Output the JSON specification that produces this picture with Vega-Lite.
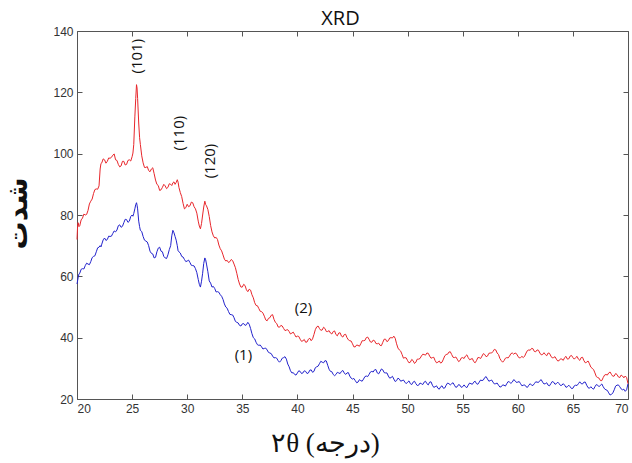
{
  "$schema": "https://vega.github.io/schema/vega-lite/v6.json",
  "width": 551,
  "height": 368,
  "autosize": {"type": "none"},
  "padding": {"left": 77, "top": 31, "right": 4, "bottom": 64},
  "background": "white",
  "title": {"text": "XRD", "font": "Open Sans", "fontSize": 20, "fontWeight": "normal", "color": "#111111", "anchor": "middle", "dx": -12, "offset": 3, "dy": 7},
  "config": {
    "view": {"stroke": null},
    "axis": {
      "grid": false,
      "domainColor": "#555555",
      "domainWidth": 1,
      "tickColor": "#555555",
      "tickWidth": 1,
      "tickSize": -5,
      "labelColor": "#333333",
      "labelFont": "Liberation Sans",
      "labelFontSize": 12,
      "labelPadding": 9
    }
  },
  "datasets": {
    "xrd": [
      {"x": 20.0, "a": 57.5, "b": 72},
      {"x": 20.05, "a": 58.5, "b": 76},
      {"x": 20.1, "a": 59.5, "b": 77.5},
      {"x": 20.18, "a": 60.8, "b": 76.2},
      {"x": 20.25, "a": 61, "b": 76.5},
      {"x": 20.375, "a": 62.3, "b": 78.4},
      {"x": 20.5, "a": 62.5, "b": 79},
      {"x": 20.625, "a": 62.4, "b": 80.3},
      {"x": 20.75, "a": 63.5, "b": 80},
      {"x": 20.875, "a": 64.3, "b": 80.2},
      {"x": 21.0, "a": 64, "b": 81.5},
      {"x": 21.125, "a": 63.8, "b": 83.6},
      {"x": 21.25, "a": 64.8, "b": 84.5},
      {"x": 21.375, "a": 66.1, "b": 85.2},
      {"x": 21.5, "a": 66.5, "b": 87},
      {"x": 21.625, "a": 66.7, "b": 88.3},
      {"x": 21.75, "a": 68, "b": 88.5},
      {"x": 21.875, "a": 69.3, "b": 88.4},
      {"x": 22.0, "a": 69.5, "b": 89.5},
      {"x": 22.1, "a": 70, "b": 95},
      {"x": 22.175, "a": 69.6, "b": 96.8},
      {"x": 22.25, "a": 70.5, "b": 97},
      {"x": 22.375, "a": 71.9, "b": 98.3},
      {"x": 22.5, "a": 72.5, "b": 98},
      {"x": 22.625, "a": 71.7, "b": 96.9},
      {"x": 22.75, "a": 72, "b": 97.5},
      {"x": 22.875, "a": 73.1, "b": 98.6},
      {"x": 23.0, "a": 73, "b": 98.5},
      {"x": 23.125, "a": 73.1, "b": 98.8},
      {"x": 23.25, "a": 74, "b": 99.5},
      {"x": 23.375, "a": 74.8, "b": 99.9},
      {"x": 23.5, "a": 74.5, "b": 98},
      {"x": 23.625, "a": 75.1, "b": 97.8},
      {"x": 23.75, "a": 76.5, "b": 96.5},
      {"x": 23.875, "a": 76.8, "b": 95.7},
      {"x": 24.0, "a": 76, "b": 96},
      {"x": 24.125, "a": 76.3, "b": 97.5},
      {"x": 24.25, "a": 77.5, "b": 97.5},
      {"x": 24.375, "a": 78.6, "b": 96.3},
      {"x": 24.5, "a": 78.5, "b": 96.5},
      {"x": 24.625, "a": 77.6, "b": 97.8},
      {"x": 24.75, "a": 78, "b": 98},
      {"x": 24.875, "a": 79.5, "b": 97.6},
      {"x": 25.0, "a": 80, "b": 99},
      {"x": 25.075, "a": 79.6, "b": 100.2},
      {"x": 25.15, "a": 80.5, "b": 103},
      {"x": 25.25, "a": 82, "b": 112},
      {"x": 25.33, "a": 83.4, "b": 118},
      {"x": 25.4, "a": 84, "b": 122.5},
      {"x": 25.45, "a": 83.2, "b": 121.4},
      {"x": 25.5, "a": 82, "b": 118},
      {"x": 25.6, "a": 78, "b": 110},
      {"x": 25.68, "a": 76.2, "b": 105.2},
      {"x": 25.75, "a": 75, "b": 103},
      {"x": 25.875, "a": 74.6, "b": 99.3},
      {"x": 26.0, "a": 73, "b": 97},
      {"x": 26.125, "a": 71.8, "b": 95.5},
      {"x": 26.25, "a": 71.5, "b": 95.5},
      {"x": 26.375, "a": 71.2, "b": 95.8},
      {"x": 26.5, "a": 70, "b": 94.5},
      {"x": 26.625, "a": 68.2, "b": 94.1},
      {"x": 26.75, "a": 67.5, "b": 95},
      {"x": 26.875, "a": 67.3, "b": 95.4},
      {"x": 27.0, "a": 66, "b": 93.5},
      {"x": 27.125, "a": 66.2, "b": 91.4},
      {"x": 27.25, "a": 68, "b": 90},
      {"x": 27.375, "a": 69.2, "b": 89.6},
      {"x": 27.5, "a": 69.5, "b": 88},
      {"x": 27.625, "a": 68.2, "b": 88.2},
      {"x": 27.75, "a": 68, "b": 89},
      {"x": 27.875, "a": 66.5, "b": 90.0},
      {"x": 28.0, "a": 66, "b": 89.5},
      {"x": 28.125, "a": 65.8, "b": 88.6},
      {"x": 28.25, "a": 67, "b": 89},
      {"x": 28.375, "a": 68.7, "b": 90.2},
      {"x": 28.5, "a": 70, "b": 90},
      {"x": 28.6, "a": 73.2, "b": 89.6},
      {"x": 28.7, "a": 75, "b": 90.5},
      {"x": 28.8, "a": 74.2, "b": 90.8},
      {"x": 28.9, "a": 73, "b": 90},
      {"x": 29.0, "a": 71.8, "b": 90.6},
      {"x": 29.1, "a": 70, "b": 91.5},
      {"x": 29.175, "a": 68.3, "b": 90.7},
      {"x": 29.25, "a": 68, "b": 89},
      {"x": 29.375, "a": 67.6, "b": 87.3},
      {"x": 29.5, "a": 66.5, "b": 86},
      {"x": 29.625, "a": 66.3, "b": 83.8},
      {"x": 29.75, "a": 65.5, "b": 82},
      {"x": 29.875, "a": 64.8, "b": 82.4},
      {"x": 30.0, "a": 65, "b": 83.5},
      {"x": 30.125, "a": 65.3, "b": 82.7},
      {"x": 30.25, "a": 64.5, "b": 83},
      {"x": 30.375, "a": 63.6, "b": 84.2},
      {"x": 30.5, "a": 63.5, "b": 84},
      {"x": 30.625, "a": 63.4, "b": 82.7},
      {"x": 30.75, "a": 62.5, "b": 82},
      {"x": 30.875, "a": 61.2, "b": 80.6},
      {"x": 31.0, "a": 59, "b": 78},
      {"x": 31.1, "a": 57.4, "b": 76.4},
      {"x": 31.2, "a": 56.5, "b": 75.5},
      {"x": 31.3, "a": 58.4, "b": 77.2},
      {"x": 31.4, "a": 61, "b": 80},
      {"x": 31.5, "a": 64.2, "b": 82.6},
      {"x": 31.6, "a": 66, "b": 84.5},
      {"x": 31.675, "a": 65.4, "b": 83.4},
      {"x": 31.75, "a": 64, "b": 83},
      {"x": 31.875, "a": 61.5, "b": 81.8},
      {"x": 32.0, "a": 58.5, "b": 79.5},
      {"x": 32.125, "a": 57.8, "b": 76.6},
      {"x": 32.25, "a": 56.5, "b": 74.5},
      {"x": 32.375, "a": 56.7, "b": 73.2},
      {"x": 32.5, "a": 56, "b": 72.5},
      {"x": 32.625, "a": 54.9, "b": 72.7},
      {"x": 32.75, "a": 55, "b": 72},
      {"x": 32.875, "a": 54.8, "b": 70.2},
      {"x": 33.0, "a": 54, "b": 69},
      {"x": 33.125, "a": 53.5, "b": 68.3},
      {"x": 33.25, "a": 52.5, "b": 67},
      {"x": 33.375, "a": 51.0, "b": 65.6},
      {"x": 33.5, "a": 50, "b": 65},
      {"x": 33.625, "a": 49.6, "b": 65.2},
      {"x": 33.75, "a": 48.5, "b": 64.5},
      {"x": 33.875, "a": 47.6, "b": 64.8},
      {"x": 34.0, "a": 47.5, "b": 65.5},
      {"x": 34.125, "a": 47.4, "b": 65.1},
      {"x": 34.25, "a": 46.5, "b": 64},
      {"x": 34.375, "a": 45.3, "b": 62.8},
      {"x": 34.5, "a": 45, "b": 61},
      {"x": 34.625, "a": 44.8, "b": 59.0},
      {"x": 34.75, "a": 44, "b": 57.5},
      {"x": 34.875, "a": 43.8, "b": 56.5},
      {"x": 35.0, "a": 44.5, "b": 56.5},
      {"x": 35.125, "a": 44.6, "b": 57.4},
      {"x": 35.25, "a": 44, "b": 57},
      {"x": 35.375, "a": 44.2, "b": 55.6},
      {"x": 35.5, "a": 45, "b": 55},
      {"x": 35.625, "a": 44.4, "b": 55.8},
      {"x": 35.75, "a": 43, "b": 55.5},
      {"x": 35.875, "a": 41.3, "b": 54.0},
      {"x": 36.0, "a": 40, "b": 53},
      {"x": 36.125, "a": 39.6, "b": 51.4},
      {"x": 36.25, "a": 38.5, "b": 50.5},
      {"x": 36.375, "a": 37.7, "b": 50.4},
      {"x": 36.5, "a": 37.5, "b": 49.5},
      {"x": 36.625, "a": 37.6, "b": 48.6},
      {"x": 36.75, "a": 37, "b": 48.5},
      {"x": 36.875, "a": 36.3, "b": 48.0},
      {"x": 37.0, "a": 36.5, "b": 47},
      {"x": 37.125, "a": 36.6, "b": 45.8},
      {"x": 37.25, "a": 36, "b": 45.5},
      {"x": 37.375, "a": 35.2, "b": 46.3},
      {"x": 37.5, "a": 35, "b": 46.5},
      {"x": 37.625, "a": 34.8, "b": 47.3},
      {"x": 37.75, "a": 34, "b": 47.5},
      {"x": 37.875, "a": 33.4, "b": 46.0},
      {"x": 38.0, "a": 33.5, "b": 45},
      {"x": 38.125, "a": 33.3, "b": 44.6},
      {"x": 38.25, "a": 32.5, "b": 43.5},
      {"x": 38.375, "a": 32.0, "b": 43.4},
      {"x": 38.5, "a": 32.5, "b": 44},
      {"x": 38.625, "a": 33.3, "b": 43.8},
      {"x": 38.75, "a": 33.5, "b": 43},
      {"x": 38.875, "a": 33.8, "b": 42.3},
      {"x": 39.0, "a": 33, "b": 42.5},
      {"x": 39.125, "a": 31.4, "b": 42.6},
      {"x": 39.25, "a": 30.5, "b": 42},
      {"x": 39.375, "a": 29.2, "b": 41.2},
      {"x": 39.5, "a": 28.5, "b": 41.5},
      {"x": 39.625, "a": 28.6, "b": 41.8},
      {"x": 39.75, "a": 28, "b": 41},
      {"x": 39.875, "a": 27.8, "b": 40.2},
      {"x": 40.0, "a": 28.5, "b": 40.5},
      {"x": 40.125, "a": 29.2, "b": 40.4},
      {"x": 40.25, "a": 29, "b": 39.5},
      {"x": 40.375, "a": 28.3, "b": 38.8},
      {"x": 40.5, "a": 28.5, "b": 39},
      {"x": 40.625, "a": 29.2, "b": 39.4},
      {"x": 40.75, "a": 29, "b": 38.5},
      {"x": 40.875, "a": 28.3, "b": 38.6},
      {"x": 41.0, "a": 28.5, "b": 39.5},
      {"x": 41.125, "a": 29.4, "b": 39.8},
      {"x": 41.25, "a": 29.5, "b": 39},
      {"x": 41.375, "a": 28.7, "b": 39.6},
      {"x": 41.5, "a": 29, "b": 41},
      {"x": 41.625, "a": 30.2, "b": 42.6},
      {"x": 41.75, "a": 30.5, "b": 43.5},
      {"x": 41.875, "a": 30.7, "b": 43.8},
      {"x": 42.0, "a": 31.5, "b": 43},
      {"x": 42.125, "a": 32.3, "b": 42.4},
      {"x": 42.25, "a": 32, "b": 42.5},
      {"x": 42.375, "a": 31.8, "b": 43.4},
      {"x": 42.5, "a": 32.5, "b": 43},
      {"x": 42.625, "a": 32.4, "b": 42.0},
      {"x": 42.75, "a": 31, "b": 42},
      {"x": 42.875, "a": 29.7, "b": 42.3},
      {"x": 43.0, "a": 29, "b": 41.5},
      {"x": 43.125, "a": 28.9, "b": 41.2},
      {"x": 43.25, "a": 28, "b": 42},
      {"x": 43.375, "a": 27.6, "b": 42.2},
      {"x": 43.5, "a": 28, "b": 41},
      {"x": 43.625, "a": 28.7, "b": 40.6},
      {"x": 43.75, "a": 28.5, "b": 41.5},
      {"x": 43.875, "a": 28.3, "b": 41.6},
      {"x": 44.0, "a": 29, "b": 40.5},
      {"x": 44.125, "a": 29.3, "b": 40.2},
      {"x": 44.25, "a": 28.5, "b": 41},
      {"x": 44.375, "a": 28.0, "b": 41.1},
      {"x": 44.5, "a": 28.5, "b": 40},
      {"x": 44.625, "a": 28.6, "b": 39.3},
      {"x": 44.75, "a": 27.5, "b": 39},
      {"x": 44.875, "a": 26.8, "b": 38.9},
      {"x": 45.0, "a": 26.5, "b": 38},
      {"x": 45.125, "a": 26.7, "b": 37.0},
      {"x": 45.25, "a": 26, "b": 37},
      {"x": 45.375, "a": 25.3, "b": 37.6},
      {"x": 45.5, "a": 25.5, "b": 37.5},
      {"x": 45.625, "a": 26.3, "b": 37.2},
      {"x": 45.75, "a": 26, "b": 38},
      {"x": 45.875, "a": 25.8, "b": 39.0},
      {"x": 46.0, "a": 26.5, "b": 39},
      {"x": 46.125, "a": 27.3, "b": 39.1},
      {"x": 46.25, "a": 27.5, "b": 40},
      {"x": 46.375, "a": 27.3, "b": 40.2},
      {"x": 46.5, "a": 28, "b": 39.5},
      {"x": 46.625, "a": 28.8, "b": 38.6},
      {"x": 46.75, "a": 29, "b": 38.5},
      {"x": 46.875, "a": 28.8, "b": 39.2},
      {"x": 47.0, "a": 29.5, "b": 39},
      {"x": 47.125, "a": 29.6, "b": 38.1},
      {"x": 47.25, "a": 28.5, "b": 38},
      {"x": 47.375, "a": 28.2, "b": 38.2},
      {"x": 47.5, "a": 29, "b": 37.5},
      {"x": 47.625, "a": 29.8, "b": 37.4},
      {"x": 47.75, "a": 29.5, "b": 38.5},
      {"x": 47.875, "a": 28.6, "b": 39.5},
      {"x": 48.0, "a": 28.5, "b": 39.5},
      {"x": 48.125, "a": 28.5, "b": 38.7},
      {"x": 48.25, "a": 27.5, "b": 39},
      {"x": 48.375, "a": 26.8, "b": 39.9},
      {"x": 48.5, "a": 27, "b": 40},
      {"x": 48.625, "a": 27.4, "b": 39.9},
      {"x": 48.75, "a": 26.5, "b": 40.5},
      {"x": 48.875, "a": 25.7, "b": 39.8},
      {"x": 49.0, "a": 26, "b": 38},
      {"x": 49.125, "a": 26.8, "b": 36.6},
      {"x": 49.25, "a": 26.5, "b": 36},
      {"x": 49.375, "a": 25.8, "b": 35.6},
      {"x": 49.5, "a": 26, "b": 34.5},
      {"x": 49.625, "a": 26.2, "b": 33.3},
      {"x": 49.75, "a": 25.5, "b": 33.5},
      {"x": 49.875, "a": 25.0, "b": 33.4},
      {"x": 50.0, "a": 25.5, "b": 32.5},
      {"x": 50.125, "a": 25.9, "b": 31.8},
      {"x": 50.25, "a": 25, "b": 32},
      {"x": 50.375, "a": 24.7, "b": 32.9},
      {"x": 50.5, "a": 25.5, "b": 32.5},
      {"x": 50.625, "a": 25.8, "b": 31.6},
      {"x": 50.75, "a": 25, "b": 32},
      {"x": 50.875, "a": 24.4, "b": 33.0},
      {"x": 51.0, "a": 24.5, "b": 33},
      {"x": 51.125, "a": 25.2, "b": 33.2},
      {"x": 51.25, "a": 25, "b": 34},
      {"x": 51.375, "a": 24.7, "b": 34.6},
      {"x": 51.5, "a": 25.5, "b": 34.5},
      {"x": 51.625, "a": 25.8, "b": 34.3},
      {"x": 51.75, "a": 25, "b": 35},
      {"x": 51.875, "a": 24.6, "b": 34.9},
      {"x": 52.0, "a": 25.5, "b": 34},
      {"x": 52.125, "a": 25.6, "b": 33.3},
      {"x": 52.25, "a": 24.5, "b": 33.5},
      {"x": 52.375, "a": 23.8, "b": 33.6},
      {"x": 52.5, "a": 24, "b": 32.5},
      {"x": 52.625, "a": 24.3, "b": 31.8},
      {"x": 52.75, "a": 23.5, "b": 32},
      {"x": 52.875, "a": 23.2, "b": 32.4},
      {"x": 53.0, "a": 24, "b": 31.7},
      {"x": 53.125, "a": 24.3, "b": 32.0},
      {"x": 53.25, "a": 23.5, "b": 33},
      {"x": 53.375, "a": 23.6, "b": 34.1},
      {"x": 53.5, "a": 24.5, "b": 34.5},
      {"x": 53.625, "a": 25.2, "b": 34.6},
      {"x": 53.75, "a": 25, "b": 35.3},
      {"x": 53.875, "a": 24.6, "b": 35.4},
      {"x": 54.0, "a": 25, "b": 34.5},
      {"x": 54.125, "a": 25.3, "b": 33.6},
      {"x": 54.25, "a": 24.5, "b": 33.5},
      {"x": 54.375, "a": 23.8, "b": 33.7},
      {"x": 54.5, "a": 24, "b": 33},
      {"x": 54.625, "a": 24.7, "b": 32.2},
      {"x": 54.75, "a": 24.5, "b": 32.5},
      {"x": 54.875, "a": 23.8, "b": 33.4},
      {"x": 55.0, "a": 24, "b": 33.5},
      {"x": 55.125, "a": 24.6, "b": 33.2},
      {"x": 55.25, "a": 24, "b": 34},
      {"x": 55.375, "a": 23.7, "b": 34.4},
      {"x": 55.5, "a": 24.5, "b": 33.5},
      {"x": 55.625, "a": 25.2, "b": 32.8},
      {"x": 55.75, "a": 25, "b": 33},
      {"x": 55.875, "a": 24.8, "b": 33.2},
      {"x": 56.0, "a": 25.5, "b": 32.2},
      {"x": 56.125, "a": 25.8, "b": 31.8},
      {"x": 56.25, "a": 25, "b": 32.5},
      {"x": 56.375, "a": 24.8, "b": 33.5},
      {"x": 56.5, "a": 25.5, "b": 33.5},
      {"x": 56.625, "a": 26.2, "b": 33.2},
      {"x": 56.75, "a": 26, "b": 34},
      {"x": 56.875, "a": 26.2, "b": 34.8},
      {"x": 57.0, "a": 27, "b": 34.5},
      {"x": 57.125, "a": 27.3, "b": 33.8},
      {"x": 57.25, "a": 26.5, "b": 34},
      {"x": 57.375, "a": 25.8, "b": 34.9},
      {"x": 57.5, "a": 26, "b": 35},
      {"x": 57.625, "a": 26.2, "b": 35.0},
      {"x": 57.75, "a": 25.5, "b": 35.5},
      {"x": 57.875, "a": 24.9, "b": 36.2},
      {"x": 58.0, "a": 25, "b": 36},
      {"x": 58.125, "a": 25.2, "b": 35.0},
      {"x": 58.25, "a": 24.5, "b": 34.5},
      {"x": 58.375, "a": 23.9, "b": 33.2},
      {"x": 58.5, "a": 24, "b": 32.5},
      {"x": 58.625, "a": 24.6, "b": 32.0},
      {"x": 58.75, "a": 24.5, "b": 32.5},
      {"x": 58.875, "a": 24.2, "b": 33.3},
      {"x": 59.0, "a": 25, "b": 33.5},
      {"x": 59.125, "a": 25.7, "b": 33.4},
      {"x": 59.25, "a": 25.5, "b": 34},
      {"x": 59.375, "a": 25.1, "b": 34.8},
      {"x": 59.5, "a": 25.5, "b": 35},
      {"x": 59.625, "a": 26.3, "b": 34.6},
      {"x": 59.75, "a": 26, "b": 35},
      {"x": 59.875, "a": 25.4, "b": 34.8},
      {"x": 60.0, "a": 25.5, "b": 34},
      {"x": 60.125, "a": 25.7, "b": 33.4},
      {"x": 60.25, "a": 25, "b": 33.5},
      {"x": 60.375, "a": 24.3, "b": 33.9},
      {"x": 60.5, "a": 24.5, "b": 33.5},
      {"x": 60.625, "a": 24.6, "b": 34.0},
      {"x": 60.75, "a": 24, "b": 35},
      {"x": 60.875, "a": 23.8, "b": 35.8},
      {"x": 61.0, "a": 24.5, "b": 36},
      {"x": 61.125, "a": 25.0, "b": 35.9},
      {"x": 61.25, "a": 24.5, "b": 36.5},
      {"x": 61.375, "a": 24.4, "b": 36.4},
      {"x": 61.5, "a": 25, "b": 35.5},
      {"x": 61.625, "a": 25.6, "b": 35.4},
      {"x": 61.75, "a": 25.5, "b": 36},
      {"x": 61.875, "a": 25.4, "b": 35.9},
      {"x": 62.0, "a": 26, "b": 35},
      {"x": 62.125, "a": 26.3, "b": 34.4},
      {"x": 62.25, "a": 25.5, "b": 34.5},
      {"x": 62.375, "a": 24.9, "b": 35.1},
      {"x": 62.5, "a": 25, "b": 34.5},
      {"x": 62.625, "a": 25.3, "b": 34.1},
      {"x": 62.75, "a": 24.5, "b": 35},
      {"x": 62.875, "a": 24.3, "b": 34.9},
      {"x": 63.0, "a": 25, "b": 34},
      {"x": 63.125, "a": 25.7, "b": 33.4},
      {"x": 63.25, "a": 25.5, "b": 33.5},
      {"x": 63.375, "a": 24.8, "b": 33.8},
      {"x": 63.5, "a": 25, "b": 33},
      {"x": 63.625, "a": 25.5, "b": 32.4},
      {"x": 63.75, "a": 25, "b": 32.5},
      {"x": 63.875, "a": 24.4, "b": 33.1},
      {"x": 64.0, "a": 24.5, "b": 33},
      {"x": 64.125, "a": 25.0, "b": 32.6},
      {"x": 64.25, "a": 24.5, "b": 33.5},
      {"x": 64.375, "a": 23.8, "b": 33.9},
      {"x": 64.5, "a": 24, "b": 33},
      {"x": 64.625, "a": 24.5, "b": 33.1},
      {"x": 64.75, "a": 24, "b": 34},
      {"x": 64.875, "a": 23.4, "b": 34.2},
      {"x": 65.0, "a": 23.5, "b": 33.5},
      {"x": 65.125, "a": 24.3, "b": 33.0},
      {"x": 65.25, "a": 24.5, "b": 33.5},
      {"x": 65.375, "a": 24.4, "b": 33.9},
      {"x": 65.5, "a": 25, "b": 33},
      {"x": 65.625, "a": 25.6, "b": 32.6},
      {"x": 65.75, "a": 25, "b": 33.5},
      {"x": 65.875, "a": 24.9, "b": 33.6},
      {"x": 66.0, "a": 25.5, "b": 32.5},
      {"x": 66.125, "a": 25.5, "b": 31.8},
      {"x": 66.25, "a": 24.5, "b": 32},
      {"x": 66.375, "a": 23.7, "b": 32.4},
      {"x": 66.5, "a": 23.5, "b": 31.5},
      {"x": 66.625, "a": 24.0, "b": 30.4},
      {"x": 66.75, "a": 23.5, "b": 30},
      {"x": 66.875, "a": 23.2, "b": 29.6},
      {"x": 67.0, "a": 24, "b": 28.5},
      {"x": 67.125, "a": 24.7, "b": 27.3},
      {"x": 67.25, "a": 24.5, "b": 27},
      {"x": 67.375, "a": 24.0, "b": 26.8},
      {"x": 67.5, "a": 24.5, "b": 26},
      {"x": 67.625, "a": 24.9, "b": 26.0},
      {"x": 67.75, "a": 24, "b": 27},
      {"x": 67.875, "a": 23.3, "b": 27.8},
      {"x": 68.0, "a": 23, "b": 28},
      {"x": 68.125, "a": 22.8, "b": 27.8},
      {"x": 68.25, "a": 22, "b": 28.5},
      {"x": 68.375, "a": 21.3, "b": 28.8},
      {"x": 68.5, "a": 21.5, "b": 28},
      {"x": 68.625, "a": 22.0, "b": 27.4},
      {"x": 68.75, "a": 23, "b": 27.5},
      {"x": 68.875, "a": 24.2, "b": 28.3},
      {"x": 69.0, "a": 24.5, "b": 28},
      {"x": 69.125, "a": 24.6, "b": 27.2},
      {"x": 69.25, "a": 24, "b": 27},
      {"x": 69.375, "a": 23.3, "b": 27.8},
      {"x": 69.5, "a": 23, "b": 27.5},
      {"x": 69.625, "a": 23.2, "b": 26.9},
      {"x": 69.75, "a": 22.5, "b": 27.5},
      {"x": 69.875, "a": 23.0, "b": 27.0},
      {"x": 70.0, "a": 25, "b": 25}
    ],
    "planes": [
      {"x": 25.45, "y": 131.8, "t": "(101)"},
      {"x": 29.3, "y": 106.7, "t": "(110)"},
      {"x": 32.1, "y": 97.6, "t": "(120)"}
    ],
    "samples": [
      {"x": 40.55, "y": 49.7, "t": "(2)"},
      {"x": 35.1, "y": 34.4, "t": "(1)"}
    ]
  },
  "resolve": {"axis": {"x": "independent", "y": "independent"}},
  "layer": [
    {
      "data": {"name": "xrd"},
      "transform": [{"fold": ["a", "b"], "as": ["series", "y"]}],
      "mark": {"type": "line", "strokeWidth": 1},
      "encoding": {
        "x": {"field": "x", "type": "quantitative", "scale": {"domain": [20, 70], "nice": false, "zero": false},
              "axis": {"orient": "bottom", "values": [20, 25, 30, 35, 40, 45, 50, 55, 60, 65, 70], "title": "۲θ (درجه)",
                       "titleFont": "Liberation Serif", "titleFontSize": 27, "titleFontWeight": "normal", "titleColor": "#111111",
                       "titleX": 248, "titleY": 44, "titleBaseline": "middle", "titleAlign": "center"}},
        "y": {"field": "y", "type": "quantitative", "scale": {"domain": [20, 140], "nice": false, "zero": false},
              "axis": {"orient": "left", "values": [20, 40, 60, 80, 100, 120, 140], "title": "شدت",
                       "titleFont": "DejaVu Sans", "titleFontSize": 28, "titleFontWeight": "bold", "titleColor": "#111111",
                       "titleX": -59, "titleY": 182, "titleBaseline": "middle", "titleAlign": "center", "titleAngle": 270}},
        "color": {"field": "series", "type": "nominal", "scale": {"domain": ["a", "b"], "range": ["#2222cc", "#e8262b"]}, "legend": null}
      }
    },
    {
      "data": {"name": "planes"},
      "mark": {"type": "text", "angle": 270, "font": "Open Sans", "fontSize": 15, "color": "#111111", "align": "center", "baseline": "middle"},
      "encoding": {
        "x": {"field": "x", "type": "quantitative", "axis": {"orient": "top", "values": [20, 25, 30, 35, 40, 45, 50, 55, 60, 65, 70], "labels": false, "title": null}},
        "y": {"field": "y", "type": "quantitative", "axis": {"orient": "right", "values": [20, 40, 60, 80, 100, 120, 140], "labels": false, "title": null}},
        "text": {"field": "t"}
      }
    },
    {
      "data": {"name": "samples"},
      "mark": {"type": "text", "font": "Open Sans", "fontSize": 15, "color": "#111111", "align": "center", "baseline": "middle"},
      "encoding": {
        "x": {"field": "x", "type": "quantitative", "axis": null},
        "y": {"field": "y", "type": "quantitative", "axis": null},
        "text": {"field": "t"}
      }
    }
  ]
}
